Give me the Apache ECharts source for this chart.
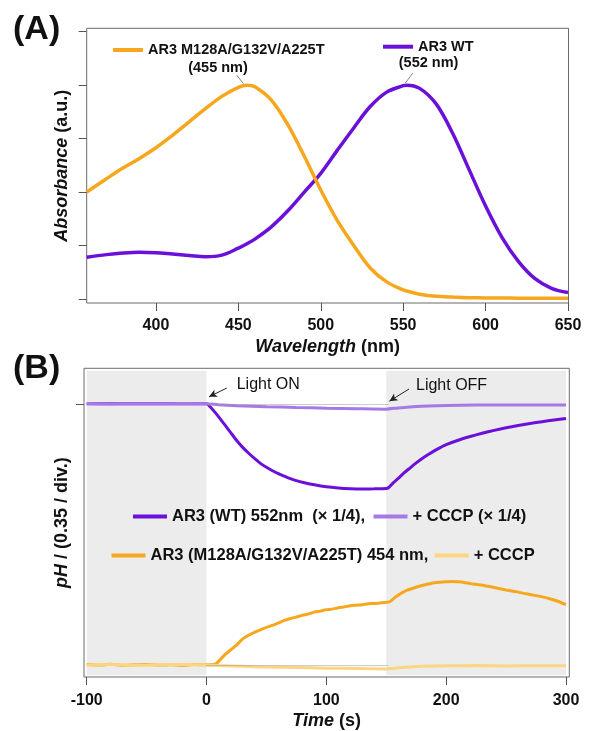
<!DOCTYPE html>
<html>
<head>
<meta charset="utf-8">
<script src="https://cdn.jsdelivr.net/npm/echarts@6/dist/echarts.min.js"></script>
<style>
html,body{margin:0;padding:0;background:#fff;}
#chart{width:589px;height:731px;}
</style>
</head>
<body>
<div id="chart"></div>
<script>
// ---------- Panel A: absorbance spectra ----------
const wavelengths = [358,370,380,390,400,410,420,430,440,450,455,460,470,480,490,500,510,520,530,540,550,552,560,570,580,590,600,610,620,630,640,650];
const absMutant   = [2.00,2.25,2.45,2.63,2.83,3.06,3.31,3.56,3.79,3.96,4.00,3.97,3.72,3.26,2.67,2.04,1.47,1.00,0.58,0.32,0.17,0.15,0.09,0.05,0.035,0.025,0.02,0.018,0.016,0.015,0.015,0.015];
const absWT       = [0.78,0.83,0.86,0.875,0.865,0.84,0.815,0.79,0.82,0.95,1.03,1.12,1.35,1.65,2.00,2.35,2.78,3.20,3.60,3.87,3.99,4.00,3.94,3.65,3.10,2.42,1.74,1.15,0.70,0.38,0.20,0.12];
const xTicksA = [400,450,500,550,600,650];
const yTicksA = [0,1,2,3,4,5];

// ---------- Panel B: pH traces ----------
const timeWT = [-100,-75,-50,-25,0,3,8,15,20,25,30,35,40,45,50,55,60,65,70,75,80,90,100,110,120,130,140,150,152,156,160,165,170,175,180,185,190,195,200,210,220,230,240,250,260,270,280,290,300];
const phWT   = [0,0,0,0,0,-0.03,-0.1,-0.21,-0.29,-0.37,-0.44,-0.5,-0.555,-0.605,-0.645,-0.68,-0.71,-0.735,-0.76,-0.78,-0.797,-0.823,-0.843,-0.855,-0.862,-0.865,-0.864,-0.86,-0.85,-0.8,-0.757,-0.7,-0.65,-0.6,-0.555,-0.515,-0.478,-0.445,-0.415,-0.37,-0.333,-0.3,-0.27,-0.243,-0.22,-0.2,-0.182,-0.165,-0.15];
const timeWTc = [-100,-80,-60,-40,-20,0,10,25,50,75,100,125,150,160,175,200,225,250,275,300];
const phWTc   = [0.002,-0.002,0.001,-0.001,0.002,0,-0.01,-0.02,-0.03,-0.038,-0.045,-0.05,-0.055,-0.042,-0.027,-0.017,-0.013,-0.012,-0.012,-0.012];
const timeMut = [-100,-90,-80,-70,-60,-50,-40,-30,-20,-10,0,5,8,12,16,20,25,30,35,40,45,50,55,60,65,70,75,80,85,90,95,100,105,110,115,120,125,130,135,140,145,150,153,158,163,168,173,180,185,190,195,200,205,210,215,220,229,240,250,257,265,275,285,292,300];
const phMut   = [-2.648,-2.652,-2.645,-2.655,-2.65,-2.647,-2.653,-2.65,-2.655,-2.648,-2.65,-2.648,-2.64,-2.59,-2.54,-2.5,-2.45,-2.39,-2.35,-2.32,-2.295,-2.27,-2.25,-2.225,-2.2,-2.18,-2.165,-2.148,-2.135,-2.115,-2.105,-2.09,-2.085,-2.07,-2.062,-2.05,-2.045,-2.04,-2.03,-2.028,-2.022,-2.015,-2.01,-1.96,-1.92,-1.89,-1.87,-1.845,-1.83,-1.818,-1.812,-1.808,-1.805,-1.808,-1.815,-1.826,-1.84,-1.865,-1.89,-1.905,-1.925,-1.948,-1.974,-2.0,-2.04];
const timeMutc = [-100,-80,-60,-40,-20,0,10,30,50,75,100,125,150,160,175,200,225,250,275,300];
const phMutc   = [-2.652,-2.648,-2.655,-2.65,-2.647,-2.652,-2.658,-2.665,-2.673,-2.678,-2.684,-2.688,-2.692,-2.68,-2.667,-2.66,-2.658,-2.662,-2.659,-2.66];
const xTicksB = [-100,0,100,200,300];
const yTicksB = [0];

const nameA1 = 'AR3 M128A/G132V/A225T';
const nameA2 = 'AR3 WT';
const nameB1 = 'AR3 (WT) 552nm  (\u00d7 1/4),';
const nameB2 = '+ CCCP (\u00d7 1/4)';
const nameB3 = 'AR3 (M128A/G132V/A225T) 454 nm,';
const nameB4 = '+ CCCP';

const zip = (xs, ys) => xs.map((x, i) => [x, ys[i]]);

const FONT = '"Liberation Sans", Arial, sans-serif';
const ORANGE = '#f6a71e', PURPLE = '#6a10d8', LPURPLE = '#a67ae6', LORANGE = '#fcd581';
const BOX = '#6b6b6b', TICK = '#555';

const axisNameStyle = {
  fontFamily: FONT, fontSize: 18, fontWeight: 'bold', color: '#111',
  rich: {
    i: {fontFamily: FONT, fontSize: 18, fontWeight: 'bold', fontStyle: 'italic', color: '#111'},
    n: {fontFamily: FONT, fontSize: 18, fontWeight: 'bold', color: '#111'}
  }
};
const tickLabel = (vals, margin) => ({
  show: true, customValues: vals, margin: margin,
  fontFamily: FONT, fontSize: 16, fontWeight: 'bold', color: '#111'
});

function legendItem(name, left, top, fontSize, width) {
  return {
    data: [name], left: left, top: top, padding: 0, itemGap: 0,
    icon: 'rect', itemWidth: width, itemHeight: 4, selectedMode: false,
    textStyle: {fontFamily: FONT, fontSize: fontSize, fontWeight: 'bold', color: '#111', lineHeight: 16}
  };
}

const chart = echarts.init(document.getElementById('chart'), null, {renderer: 'canvas'});
chart.setOption({
  animation: false,
  backgroundColor: '#fff',
  grid: [
    {left: 86.7, top: 28.3, width: 481.8, height: 274.7, show: true, borderColor: BOX, borderWidth: 1, backgroundColor: 'transparent'},
    {left: 84, top: 368.3, width: 485.3, height: 313.4, show: true, borderColor: BOX, borderWidth: 1, backgroundColor: 'transparent'}
  ],
  xAxis: [
    {type: 'value', gridIndex: 0, min: 358, max: 650.3,
     name: '{i|Wavelength}{n| (nm)}', nameLocation: 'middle', nameGap: 35, nameTextStyle: axisNameStyle,
     axisLine: {show: false, onZero: false}, splitLine: {show: false},
     axisTick: {show: true, customValues: xTicksA, length: 8, lineStyle: {color: TICK}},
     axisLabel: tickLabel(xTicksA, 15)},
    {type: 'value', gridIndex: 1, min: -102.25, max: 302.75,
     name: '{i|Time}{n| (s)}', nameLocation: 'middle', nameGap: 35, nameTextStyle: axisNameStyle,
     axisLine: {show: false, onZero: false}, splitLine: {show: false},
     axisTick: {show: true, customValues: xTicksB, length: 8, lineStyle: {color: TICK}},
     axisLabel: tickLabel(xTicksB, 16)}
  ],
  yAxis: [
    {type: 'value', gridIndex: 0, min: -0.075, max: 5.064,
     name: '{i|Absorbance}{n| (a.u.)}', nameLocation: 'middle', nameGap: 16, nameTextStyle: axisNameStyle,
     axisLine: {show: false, onZero: false}, splitLine: {show: false},
     axisTick: {show: true, customValues: yTicksA, length: 8, lineStyle: {color: TICK}},
     axisLabel: {show: false}},
    {type: 'value', gridIndex: 1, min: -2.774, max: 0.36,
     name: '{i|pH}{n| / (0.35 / div.)}', nameLocation: 'middle', nameGap: 13, nameTextStyle: axisNameStyle,
     axisLine: {show: false, onZero: false}, splitLine: {show: false},
     axisTick: {show: true, customValues: yTicksB, length: 8, lineStyle: {color: TICK}},
     axisLabel: {show: false}}
  ],
  legend: [
    legendItem(nameA1, 113, 42, 14.5, 30),
    legendItem(nameA2, 383, 38.7, 14.5, 30),
    legendItem(nameB1, 133, 508, 16.5, 34),
    legendItem(nameB2, 373.5, 508, 16.5, 34),
    legendItem(nameB3, 111.5, 547, 16.5, 34),
    legendItem(nameB4, 434.7, 547, 16.5, 34)
  ],
  series: [
    {name: nameA2, type: 'line', xAxisIndex: 0, yAxisIndex: 0, data: zip(wavelengths, absWT),
     smooth: 0.35, showSymbol: false, color: PURPLE, lineStyle: {width: 3.5, color: PURPLE},
     markLine: {silent: true, symbol: 'none', label: {show: false}, lineStyle: {color: '#888', width: 1, type: 'solid'},
       data: [[{coord: [555.9, 4.23]}, {coord: [551.3, 4.04]}]]}},
    {name: nameA1, type: 'line', xAxisIndex: 0, yAxisIndex: 0, data: zip(wavelengths, absMutant),
     smooth: 0.35, showSymbol: false, color: ORANGE, lineStyle: {width: 3.5, color: ORANGE},
     markLine: {silent: true, symbol: 'none', label: {show: false}, lineStyle: {color: '#888', width: 1, type: 'solid'},
       data: [[{coord: [449, 4.19]}, {coord: [453, 4.03]}]]}},
    {name: nameB1, type: 'line', xAxisIndex: 1, yAxisIndex: 1, data: zip(timeWT, phWT),
     smooth: 0.2, showSymbol: false, color: PURPLE, lineStyle: {width: 3, color: PURPLE},
     markArea: {silent: true, itemStyle: {color: '#ececec'},
       data: [[{xAxis: -100, yAxis: -2.757}, {xAxis: 0, yAxis: 0.336}],
              [{xAxis: 150, yAxis: -2.757}, {xAxis: 300, yAxis: 0.336}]]},
     markLine: {silent: true, symbol: 'none', label: {show: false}, lineStyle: {color: '#999', width: 1, type: 'dotted'},
       data: [[{coord: [0, 0]}, {coord: [152, 0]}], [{coord: [0, -2.655]}, {coord: [152, -2.655]}]]}},
    {name: nameB2, type: 'line', xAxisIndex: 1, yAxisIndex: 1, data: zip(timeWTc, phWTc),
     smooth: 0.2, showSymbol: false, color: LPURPLE, lineStyle: {width: 3, color: LPURPLE},
     markLine: {silent: true, symbol: ['none', 'arrow'], symbolSize: [6, 8], label: {show: false},
       lineStyle: {color: '#222', width: 1, type: 'solid'},
       data: [[{coord: [16.9, 0.16]}, {coord: [2.1, 0.07]}], [{coord: [169, 0.15]}, {coord: [152.6, 0.026]}]]}},
    {name: nameB3, type: 'line', xAxisIndex: 1, yAxisIndex: 1, data: zip(timeMut, phMut),
     smooth: 0.2, showSymbol: false, color: ORANGE, lineStyle: {width: 3, color: ORANGE}},
    {name: nameB4, type: 'line', xAxisIndex: 1, yAxisIndex: 1, data: zip(timeMutc, phMutc),
     smooth: 0.2, showSymbol: false, color: LORANGE, lineStyle: {width: 3, color: LORANGE}}
  ],
  graphic: [
    {type: 'text', z: 100, style: {text: '(A)', x: 13, y: 30, font: 'bold 34px ' + FONT, fill: '#111', textAlign: 'left', textVerticalAlign: 'middle'}},
    {type: 'text', z: 100, style: {text: '(B)', x: 13, y: 369, font: 'bold 34px ' + FONT, fill: '#111', textAlign: 'left', textVerticalAlign: 'middle'}},
    {type: 'text', z: 100, style: {text: '(455 nm)', x: 218, y: 67.7, font: 'bold 14.5px ' + FONT, fill: '#111', textAlign: 'center', textVerticalAlign: 'middle'}},
    {type: 'text', z: 100, style: {text: '(552 nm)', x: 428.6, y: 63.3, font: 'bold 14.5px ' + FONT, fill: '#111', textAlign: 'center', textVerticalAlign: 'middle'}},
    {type: 'text', z: 100, style: {text: 'Light ON', x: 236.7, y: 385, font: '16px ' + FONT, fill: '#111', textAlign: 'left', textVerticalAlign: 'middle'}},
    {type: 'text', z: 100, style: {text: 'Light OFF', x: 416, y: 386, font: '16px ' + FONT, fill: '#111', textAlign: 'left', textVerticalAlign: 'middle'}}
  ]
});
</script>
</body>
</html>
